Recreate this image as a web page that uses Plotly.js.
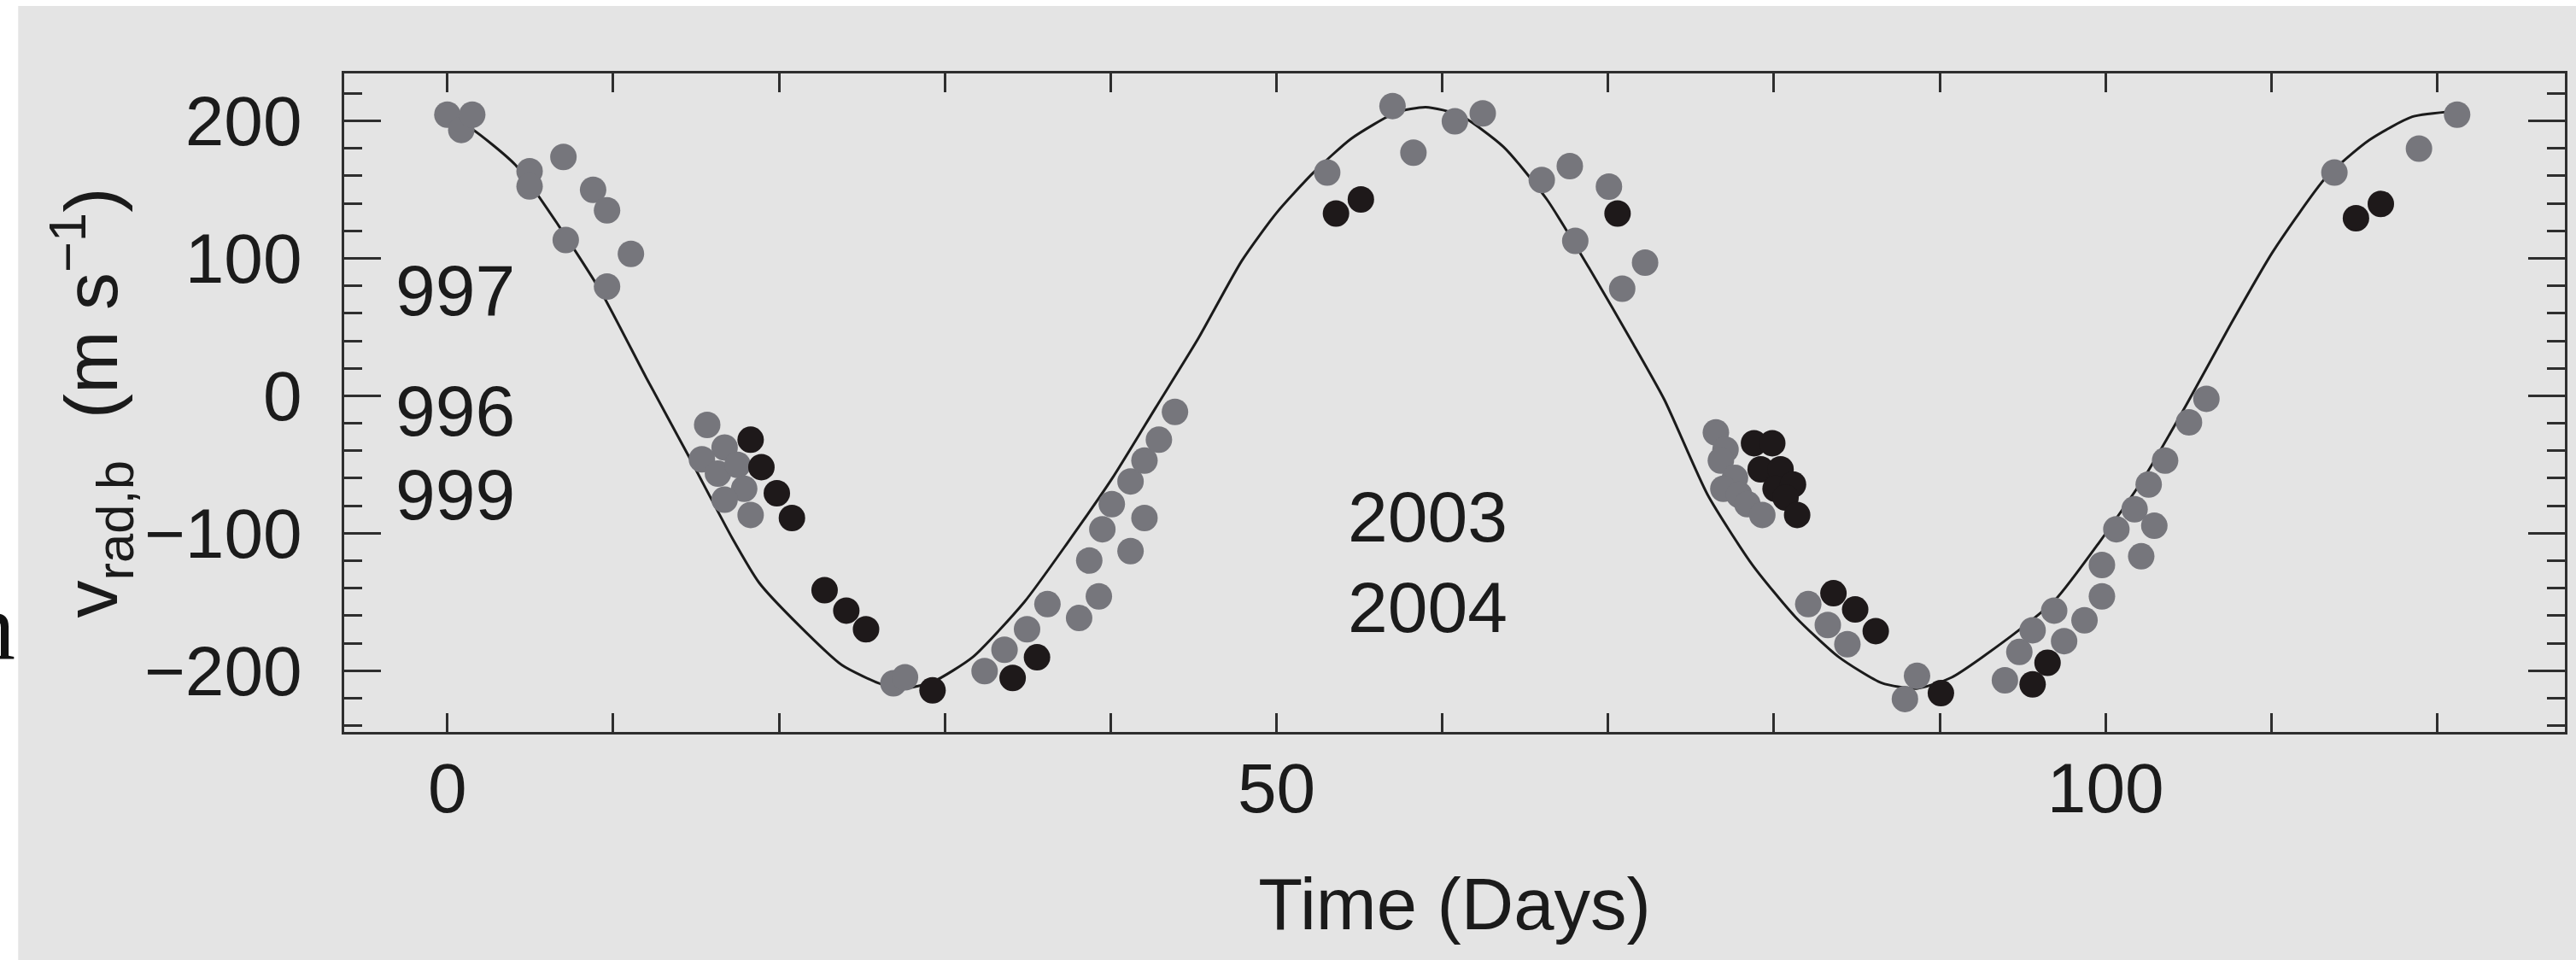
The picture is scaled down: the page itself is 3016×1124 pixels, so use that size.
<!DOCTYPE html>
<html>
<head>
<meta charset="utf-8">
<script src="https://cdn.plot.ly/plotly-3.0.1.min.js"></script>
<style>
html,body{margin:0;padding:0;background:#ffffff;}
#chart{width:3016px;height:1124px;}
</style>
</head>
<body>
<div id="chart"></div>
<script>
// ---- data ----
var grayDays = [0, 0.84, 1.5, 4.96, 4.96, 7.0, 7.14, 8.79, 9.63, 9.63, 11.07,
  15.67, 16.72, 15.35, 16.32, 17.5, 17.9, 16.72, 18.29,
  26.9, 27.6, 32.4, 33.6, 34.96, 36.19, 38.1, 38.71, 39.29, 39.5, 40.07, 41.2, 41.2, 42.04, 42.04, 42.91, 43.88,
  53.06, 57.0, 58.26, 60.76, 62.44, 66.0, 67.69, 70.05, 68.02, 70.85, 72.23,
  76.5, 77.08, 76.8, 77.65, 76.95, 77.9, 78.4, 79.3,
  82.07, 83.25, 84.43, 88.63, 87.9, 93.93, 94.8, 95.6, 96.9, 97.5, 98.73, 99.78, 99.78, 100.65, 102.15, 101.75, 102.6, 102.94, 103.59, 105.03, 106.08,
  113.8, 118.9, 121.2];
var grayVals = [204.5, 193.4, 204.5, 163.4, 152.3, 173.8, 113.3, 149.8, 134.9, 79.5, 103.2,
  -21.2, -37.6, -46.2, -56.6, -50.3, -67.7, -75.6, -86.7,
  -209.2, -204.8, -200.3, -184.8, -169.9, -151.6, -161.7, -119.9, -146, -97.1, -78.8, -113, -62.3, -88.9, -47.2, -32, -11.7,
  162.4, 210.8, 176.9, 199.7, 205.4, 157, 167.1, 152.2, 112.7, 77.9, 96.9,
  -26.6, -39.2, -47.2, -59.8, -67.7, -72, -78.8, -86.7,
  -151.6, -166.8, -180.7, -203.8, -220.6, -207, -186.4, -170.6, -156.3, -178.5, -163.4, -145.9, -123.1, -97.1, -116.8, -82.6, -64.5, -94.6, -47.2, -19.3, -2.2,
  162.4, 179.8, 204.5];

var blackDays = [18.29, 18.94, 19.87, 20.78, 22.75, 24.06, 25.25, 29.26, 34.09, 35.56,
  53.59, 55.09, 70.57,
  78.8, 79.9, 79.2, 80.4, 80.1, 81.15, 80.7, 81.4, 83.59, 84.9, 86.14, 90.07, 95.6, 96.5,
  115.1, 116.6];
var blackVals = [-32, -51.9, -70.9, -88.9, -141.4, -156.3, -169.9, -214.3, -205.3, -190.3,
  132.6, 142.8, 132.6,
  -34.5, -34.5, -53.5, -53.5, -67.7, -64.5, -74, -86.7, -143.7, -155.5, -171.2, -216.4, -210, -194.3,
  129.2, 139.6];

// fitted orbit curve
var curveDays = [0, 1.5, 4.1, 6.7, 9.3, 12.0, 14.6, 17.2, 18.8, 21.2, 23.8, 26.2, 27.5, 29.3, 31.7, 34.8, 37.4, 40.1, 42.7, 45.3, 47.9, 50.0, 52.2, 54.5, 57.2, 59.0, 61.1, 63.7, 66.3, 68.9, 71.5, 73.4, 76.0, 78.7, 81.3, 83.9, 86.5, 88.6, 90.7, 94.4, 97.0, 99.6, 102.3, 104.9, 107.5, 110.1, 113.3, 115.9, 118.5, 121.1];
var curveVals = [203, 194, 168, 124, 75, 13, -45, -104, -136, -167, -196, -210, -213, -208, -190, -150, -107, -60, -9, 42, 98, 133, 162, 187, 206, 210, 204, 181, 143, 92, 38, -3, -72, -123, -161, -190, -209, -213, -205, -174, -148, -107, -60, -6, 51, 105, 159, 186, 203, 207];

var xTickVals = [0, 50, 100];
var xTickText = ['0', '50', '100'];
var yTickVals = [-200, -100, 0, 100, 200];

var yearLabels = ['997', '996', '999', '2000', '2003', '2004'];
var yearX = [-3.24, -3.24, -3.24, -7.46, 54.2, 54.2];
var yearY = [76.5, -11.2, -71.7, -153.9, -88.2, -153.6];

// ---- styling ----
var FONT = 'Liberation Sans, Arial, Helvetica, sans-serif';
var INK = '#1b1b1b';
var AXC = '#2e2e2e';

var traces = [
  {x: curveDays, y: curveVals, type: 'scatter', mode: 'lines',
   line: {color: INK, width: 3, shape: 'spline', smoothing: 0.6}, hoverinfo: 'skip', showlegend: false},
  {x: grayDays, y: grayVals, type: 'scatter', mode: 'markers',
   marker: {color: '#76767c', size: 31, line: {width: 0}}, showlegend: false},
  {x: blackDays, y: blackVals, type: 'scatter', mode: 'markers',
   marker: {color: '#1e191a', size: 31, line: {width: 0}}, showlegend: false}
];

var annotations = yearLabels.map(function (t, i) {
  return {text: t, x: yearX[i], y: yearY[i], xref: 'x', yref: 'y',
          xanchor: 'left', yanchor: 'middle', showarrow: false,
          font: {family: FONT, size: 84, color: INK}};
});
annotations.push({text: 'n', xref: 'paper', yref: 'paper', x: -0.1475, y: 0.16,
  xanchor: 'right', yanchor: 'middle', showarrow: false,
  font: {family: 'Liberation Serif, Times New Roman, serif', size: 112, color: '#111'}});

var layout = {
  width: 3016, height: 1124,
  margin: {l: 403, r: 10, t: 86, b: 267, pad: 0},
  paper_bgcolor: '#ffffff',
  plot_bgcolor: 'rgba(0,0,0,0)',
  font: {family: FONT, color: INK, size: 82},
  showlegend: false,
  shapes: [{type: 'rect', xref: 'paper', yref: 'paper', x0: -0.1468, x1: 1.02, y0: -0.4, y1: 1.1025,
            fillcolor: '#e4e4e4', line: {width: 0}, layer: 'below'}],
  xaxis: {
    range: [-6.22, 127.7], showgrid: false, zeroline: false,
    showline: true, linecolor: AXC, linewidth: 3, mirror: 'ticks',
    ticks: 'inside', ticklen: 22, tickwidth: 3, tickcolor: AXC,
    tickmode: 'array', tickvals: xTickVals, ticktext: xTickText,
    ticklabelstandoff: -7,
    minor: {dtick: 10, tick0: 0, ticks: 'inside', ticklen: 22, tickwidth: 3, tickcolor: AXC, showgrid: false},
    tickfont: {family: FONT, size: 82, color: INK},
    title: {text: 'Time (Days)', font: {family: FONT, size: 85, color: INK}, standoff: 62},
    automargin: true
  },
  yaxis: {
    range: [-244.6, 234.5], showgrid: false, zeroline: false,
    showline: true, linecolor: AXC, linewidth: 3, mirror: 'ticks',
    ticks: 'inside', ticklen: 43, tickwidth: 3, tickcolor: AXC,
    tickmode: 'array', tickvals: yTickVals,
    ticklabelstandoff: 30,
    minor: {dtick: 20, tick0: 0, ticks: 'inside', ticklen: 21, tickwidth: 3, tickcolor: AXC, showgrid: false},
    tickfont: {family: FONT, size: 82, color: INK},
    title: {text: 'v<sub>rad,b</sub>&nbsp;&nbsp;(m s<sup>−1</sup>)', font: {family: FONT, size: 88, color: INK}, standoff: 0},
    automargin: true
  },
  annotations: annotations
};

Plotly.newPlot('chart', traces, layout, {staticPlot: true, displayModeBar: false});
</script>
</body>
</html>
